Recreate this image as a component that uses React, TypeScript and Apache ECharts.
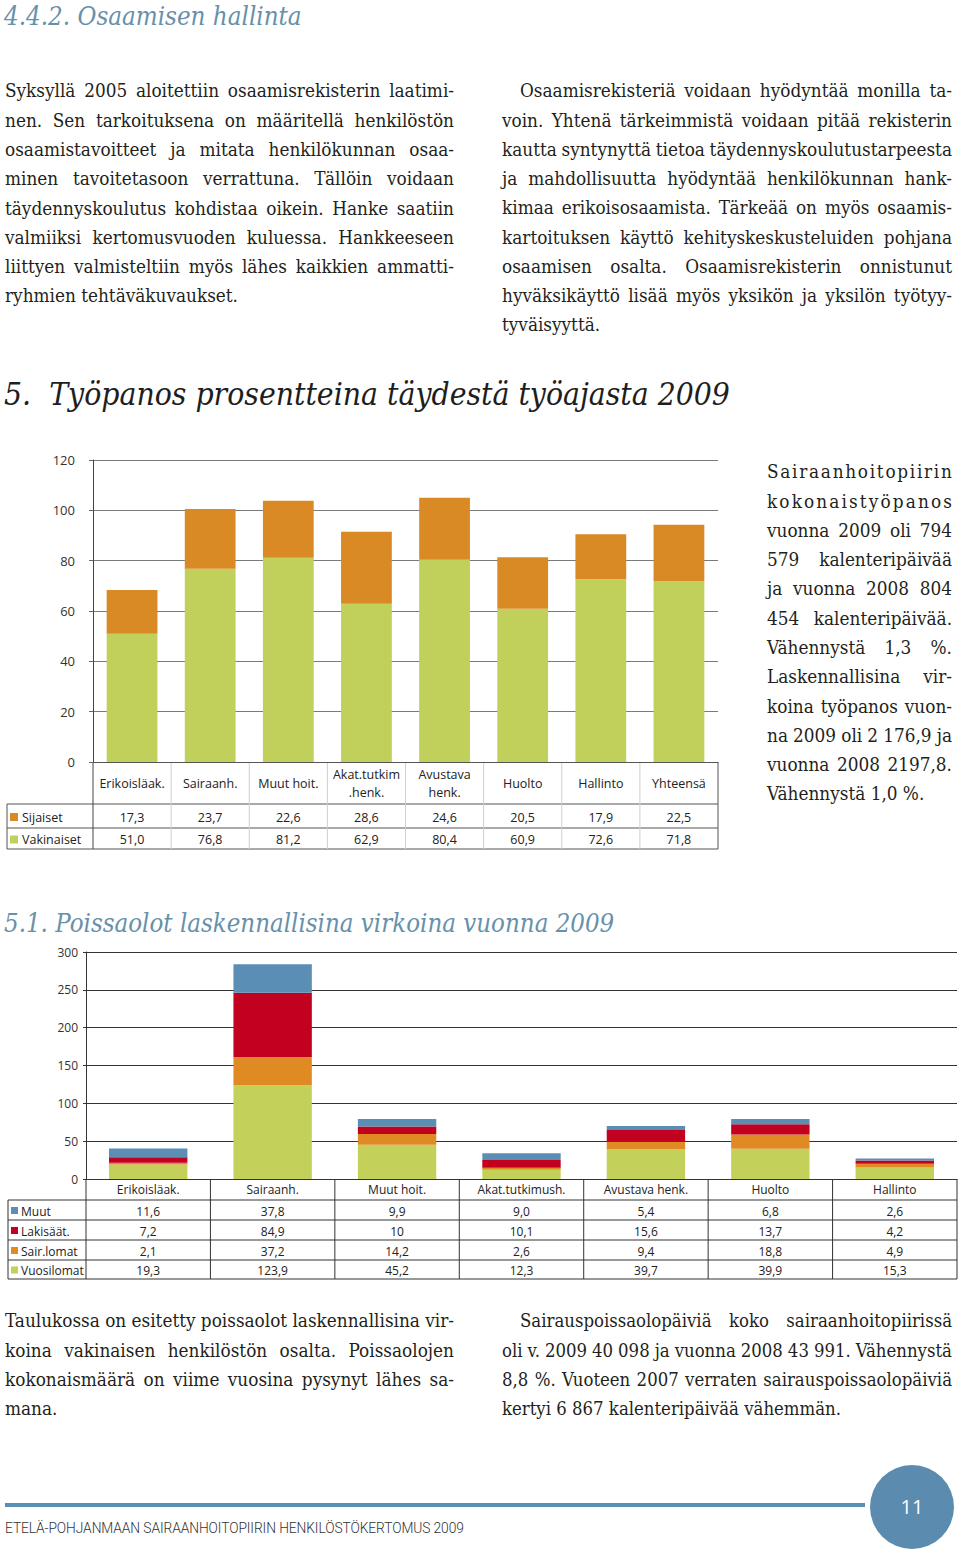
import React, { useEffect, useRef } from "react";
import * as echarts from "echarts";

// ---------- DATA ----------
const cats1 = ["Erikoisläak.", "Sairaanh.", "Muut hoit.", "Akat.tutkim\n.henk.", "Avustava\nhenk.", "Huolto", "Hallinto", "Yhteensä"];
const sijaiset = [17.3, 23.7, 22.6, 28.6, 24.6, 20.5, 17.9, 22.5];
const vakinaiset = [51.0, 76.8, 81.2, 62.9, 80.4, 60.9, 72.6, 71.8];
const yTicks1 = [0, 20, 40, 60, 80, 100, 120];

const cats2 = ["Erikoisläak.", "Sairaanh.", "Muut hoit.", "Akat.tutkimush.", "Avustava henk.", "Huolto", "Hallinto"];
const muut = [11.6, 37.8, 9.9, 9.0, 5.4, 6.8, 2.6];
const lakisaat = [7.2, 84.9, 10, 10.1, 15.6, 13.7, 4.2];
const sairlomat = [2.1, 37.2, 14.2, 2.6, 9.4, 18.8, 4.9];
const vuosilomat = [19.3, 123.9, 45.2, 12.3, 39.7, 39.9, 15.3];
const yTicks2 = [0, 50, 100, 150, 200, 250, 300];

// ---------- TEXT ----------
const para1 = [
  "Syksyllä 2005 aloitettiin osaamisrekisterin laatimi-",
  "nen. Sen tarkoituksena on määritellä henkilöstön",
  "osaamistavoitteet ja mitata henkilökunnan osaa-",
  "minen tavoitetasoon verrattuna. Tällöin voidaan",
  "täydennyskoulutus kohdistaa oikein. Hanke saatiin",
  "valmiiksi kertomusvuoden kuluessa. Hankkeeseen",
  "liittyen valmisteltiin myös lähes kaikkien ammatti-",
  "ryhmien tehtäväkuvaukset.",
];
const para2 = [
  "Osaamisrekisteriä voidaan hyödyntää monilla ta-",
  "voin. Yhtenä tärkeimmistä voidaan pitää rekisterin",
  "kautta syntynyttä tietoa täydennyskoulutustarpeesta",
  "ja mahdollisuutta hyödyntää henkilökunnan hank-",
  "kimaa erikoisosaamista. Tärkeää on myös osaamis-",
  "kartoituksen käyttö kehityskeskusteluiden pohjana",
  "osaamisen osalta. Osaamisrekisterin onnistunut",
  "hyväksikäyttö lisää myös yksikön ja yksilön työtyy-",
  "tyväisyyttä.",
];
const sideText = [
  "Sairaanhoitopiirin",
  "kokonaistyöpanos",
  "vuonna 2009 oli 794",
  "579 kalenteripäivää",
  "ja vuonna 2008 804",
  "454 kalenteripäivää.",
  "Vähennystä 1,3 %.",
  "Laskennallisina vir-",
  "koina työpanos vuon-",
  "na 2009 oli 2 176,9 ja",
  "vuonna 2008 2197,8.",
  "Vähennystä 1,0 %.",
];
const para3 = [
  "Taulukossa on esitetty poissaolot laskennallisina vir-",
  "koina vakinaisen henkilöstön osalta. Poissaolojen",
  "kokonaismäärä on viime vuosina pysynyt lähes sa-",
  "mana.",
];
const para4 = [
  "Sairauspoissaolopäiviä koko sairaanhoitopiirissä",
  "oli v. 2009 40 098 ja vuonna 2008 43 991. Vähennystä",
  "8,8 %. Vuoteen 2007 verraten sairauspoissaolopäiviä",
  "kertyi 6 867 kalenteripäivää vähemmän.",
];

// ---------- STYLE ----------
const ORANGE1 = "#DA8A25";
const GREEN1 = "#C1D05A";
const BLUE2 = "#5B8EB4";
const RED2 = "#C20020";
const ORANGE2 = "#E08A24";
const GREEN2 = "#C3D15B";
const SANS = "'Open Sans', sans-serif";
const SERIF = "'DejaVu Serif', serif";
const HEAD_BLUE = "#6791AA";

const fmt1 = (v: number) => v.toFixed(1).replace(".", ",");
const fmt2 = (v: number) => (Number.isInteger(v) && v >= 10 ? String(v) : v.toFixed(1).replace(".", ","));

function TextBlock(props: {
  lines: string[]; x: number; y0: number; width: number; lh: number; indentFirst?: number; fontSize: number;
}) {
  const { lines, x, y0, width, lh, indentFirst = 0, fontSize } = props;
  return (
    <>
      {lines.map((line, i) => {
        const justify = i < lines.length - 1;
        const ind = i === 0 ? indentFirst : 0;
        const words = line.split(" ");
        const single = words.length <= 1;
        const parts = single ? Array.from(line) : words;
        return (
          <div
            key={i}
            style={{
              position: "absolute",
              left: x + ind,
              top: y0 + i * lh - lh / 2,
              width: width - ind,
              height: lh,
              lineHeight: lh + "px",
              fontSize,
              fontFamily: SERIF,
              fontStretch: "condensed",
              color: "#231f20",
              whiteSpace: "nowrap",
              display: justify ? "flex" : "block",
              justifyContent: "space-between",
              columnGap: single ? 0 : 3,
            }}
          >
            {justify ? parts.map((p, j) => <span key={j}>{p}</span>) : line}
          </div>
        );
      })}
    </>
  );
}

function line(x1: number, y1: number, x2: number, y2: number, stroke: string, w = 1) {
  return { type: "line", silent: true, shape: { x1, y1, x2, y2 }, style: { stroke, lineWidth: w } };
}
function text(x: number, y: number, t: string, size: number, align = "center", fill = "#222") {
  return {
    type: "text", silent: true, x, y,
    style: { text: t, fill, fontSize: size, fontFamily: SANS, align, verticalAlign: "middle" },
  };
}
function square(x: number, y: number, s: number, fill: string) {
  return { type: "rect", silent: true, shape: { x, y, width: s, height: s }, style: { fill } };
}

// Chart 1 geometry
const C1 = { w: 730, h: 420, left: 93, right: 12, top: 20, bottom: 98 };
// Chart 2 geometry
const C2 = { w: 960, h: 350, left: 86, right: 3, top: 12, bottom: 111 };

function option1() {
  const x0 = C1.left;
  const x1 = C1.w - C1.right;
  const zeroY = C1.h - C1.bottom;
  const colW = (x1 - x0) / cats1.length;
  const rowTop = zeroY + 42;
  const rowMid = zeroY + 66;
  const rowBot = zeroY + 87;
  const g: any[] = [];
  g.push(line(7, rowTop, x1, rowTop, "#555"));
  g.push(line(7, rowMid, x1, rowMid, "#555"));
  g.push(line(7, rowBot, x1, rowBot, "#555"));
  g.push(line(7, rowTop, 7, rowBot, "#555"));
  g.push(line(x0, zeroY, x0, rowBot, "#444"));
  g.push(line(x1, zeroY, x1, rowBot, "#555"));
  for (let i = 1; i < cats1.length; i++) {
    const x = x0 + i * colW;
    g.push(line(x, zeroY, x, rowBot, "#cfcfcf"));
  }
  const rows = [
    { name: "Sijaiset", color: ORANGE1, vals: sijaiset, y: (rowTop + rowMid) / 2 + 1 },
    { name: "Vakinaiset", color: GREEN1, vals: vakinaiset, y: (rowMid + rowBot) / 2 + 1 },
  ];
  rows.forEach((r) => {
    g.push(square(10, r.y - 4, 8, r.color));
    g.push(text(22, r.y, r.name, 12.5, "left"));
    r.vals.forEach((v, i) => g.push(text(x0 + (i + 0.5) * colW, r.y, fmt1(v), 12.5)));
  });
  return {
    animation: false,
    grid: { left: C1.left, right: C1.right, top: C1.top, bottom: C1.bottom, outerBoundsMode: "none", containLabel: false },
    xAxis: {
      type: "category",
      data: cats1,
      axisLine: { show: true, lineStyle: { color: "#555", width: 1 } },
      axisTick: { show: false },
      axisLabel: { interval: 0, margin: 21, verticalAlign: "middle", lineHeight: 18, fontSize: 12.5, color: "#222", fontFamily: SANS },
    },
    yAxis: {
      type: "value",
      min: yTicks1[0],
      max: yTicks1[yTicks1.length - 1],
      interval: yTicks1[1] - yTicks1[0],
      axisLine: { show: true, lineStyle: { color: "#444", width: 1 } },
      axisTick: { show: true, length: 4, lineStyle: { color: "#666" } },
      splitLine: { show: true, lineStyle: { color: "#7a7a7a", width: 1 } },
      axisLabel: { margin: 18, fontSize: 13, color: "#333", fontFamily: SANS },
    },
    series: [
      { name: "Vakinaiset", type: "bar", stack: "a", data: vakinaiset, barWidth: "65%", itemStyle: { color: GREEN1 } },
      { name: "Sijaiset", type: "bar", stack: "a", data: sijaiset, barWidth: "65%", itemStyle: { color: ORANGE1 } },
    ],
    graphic: g,
  };
}

function option2() {
  const x0 = C2.left;
  const x1 = C2.w - C2.right;
  const zeroY = C2.h - C2.bottom;
  const colW = (x1 - x0) / cats2.length;
  const lines = [21, 41, 61, 81, 100].map((d) => zeroY + d);
  const g: any[] = [];
  lines.forEach((y) => g.push(line(8, y, x1, y, "#333")));
  g.push(line(8, lines[0], 8, lines[4], "#333"));
  for (let i = 0; i <= cats2.length; i++) {
    const x = x0 + i * colW;
    g.push(line(x, zeroY, x, lines[4], "#333"));
  }
  const rows = [
    { name: "Muut", color: BLUE2, vals: muut },
    { name: "Lakisäät.", color: RED2, vals: lakisaat },
    { name: "Sair.lomat", color: ORANGE2, vals: sairlomat },
    { name: "Vuosilomat", color: GREEN2, vals: vuosilomat },
  ];
  rows.forEach((r, k) => {
    const y = (lines[k] + lines[k + 1]) / 2 + 1;
    g.push(square(11, y - 4, 7, r.color));
    g.push(text(21, y, r.name, 12, "left"));
    r.vals.forEach((v, i) => g.push(text(x0 + (i + 0.5) * colW, y, fmt2(v), 12)));
  });
  return {
    animation: false,
    grid: { left: C2.left, right: C2.right, top: C2.top, bottom: C2.bottom, outerBoundsMode: "none", containLabel: false },
    xAxis: {
      type: "category",
      data: cats2,
      axisLine: { show: true, lineStyle: { color: "#333", width: 1 } },
      axisTick: { show: false },
      axisLabel: { interval: 0, margin: 10, verticalAlign: "middle", fontSize: 12, color: "#222", fontFamily: SANS },
    },
    yAxis: {
      type: "value",
      min: yTicks2[0],
      max: yTicks2[yTicks2.length - 1],
      interval: yTicks2[1] - yTicks2[0],
      axisLine: { show: true, lineStyle: { color: "#333", width: 1 } },
      axisTick: { show: true, length: 3, lineStyle: { color: "#333" } },
      splitLine: { show: true, lineStyle: { color: "#333", width: 1 } },
      axisLabel: { margin: 8, fontSize: 12, color: "#333", fontFamily: SANS },
    },
    series: [
      { name: "Vuosilomat", type: "bar", stack: "b", data: vuosilomat, barWidth: "63%", itemStyle: { color: GREEN2 } },
      { name: "Sair.lomat", type: "bar", stack: "b", data: sairlomat, barWidth: "63%", itemStyle: { color: ORANGE2 } },
      { name: "Lakisäät.", type: "bar", stack: "b", data: lakisaat, barWidth: "63%", itemStyle: { color: RED2 } },
      { name: "Muut", type: "bar", stack: "b", data: muut, barWidth: "63%", itemStyle: { color: BLUE2 } },
    ],
    graphic: g,
  };
}

export default function App() {
  const ref1 = useRef<HTMLDivElement>(null);
  const ref2 = useRef<HTMLDivElement>(null);
  useEffect(() => {
    const c1 = echarts.init(ref1.current!, null, { renderer: "svg" });
    c1.setOption(option1() as any);
    const c2 = echarts.init(ref2.current!, null, { renderer: "svg" });
    c2.setOption(option2() as any);
    return () => {
      c1.dispose();
      c2.dispose();
    };
  }, []);

  const headStyle: React.CSSProperties = {
    position: "absolute",
    fontFamily: SERIF,
    fontStyle: "italic",
    fontStretch: "condensed",
    whiteSpace: "nowrap",
  };

  return (
    <div style={{ position: "absolute", left: 0, top: 0, width: 960, height: 1551, overflow: "hidden", background: "#fff" }}>
      <div style={{ ...headStyle, left: 4, top: -1, fontSize: 25.7, lineHeight: "34px", color: HEAD_BLUE }}>4.4.2. Osaamisen hallinta</div>

      <TextBlock lines={para1} x={5} y0={91} width={449} lh={29.3} fontSize={18.8} />
      <TextBlock lines={para2} x={502} y0={91} width={450} lh={29.25} indentFirst={18} fontSize={18.8} />

      <div style={{ ...headStyle, left: 4, top: 372, fontSize: 31.6, lineHeight: "44px", color: "#1e1e1e" }}>
        5.&nbsp;&nbsp;Työpanos prosentteina täydestä työajasta 2009
      </div>

      <div ref={ref1} style={{ position: "absolute", left: 0, top: 440, width: C1.w, height: C1.h }} />

      <TextBlock lines={sideText} x={767} y0={472} width={185} lh={29.27} fontSize={18.8} />

      <div style={{ ...headStyle, left: 4, top: 905, fontSize: 25.6, lineHeight: "36px", color: HEAD_BLUE }}>
        5.1. Poissaolot laskennallisina virkoina vuonna 2009
      </div>

      <div ref={ref2} style={{ position: "absolute", left: 0, top: 940, width: C2.w, height: C2.h }} />

      <TextBlock lines={para3} x={5} y0={1321} width={449} lh={29.3} fontSize={18.8} />
      <TextBlock lines={para4} x={502} y0={1321} width={450} lh={29.3} indentFirst={18} fontSize={18.4} />

      <div style={{ position: "absolute", left: 5, top: 1503, width: 860, height: 4, background: "#5B90B5" }} />
      <div
        style={{
          position: "absolute", left: 870, top: 1465, width: 84, height: 84, borderRadius: "50%", background: "#5B8CAF",
          color: "#fff", fontFamily: SANS, fontSize: 20, lineHeight: "84px", textAlign: "center",
        }}
      >
        11
      </div>
      <div
        style={{
          position: "absolute", left: 5, top: 1518, fontFamily: "Roboto, sans-serif", fontWeight: 300, fontSize: 13.8,
          lineHeight: "20px", color: "#333", whiteSpace: "nowrap", letterSpacing: "-0.1px",
        }}
      >
        ETELÄ-POHJANMAAN SAIRAANHOITOPIIRIN HENKILÖSTÖKERTOMUS 2009
      </div>
    </div>
  );
}
